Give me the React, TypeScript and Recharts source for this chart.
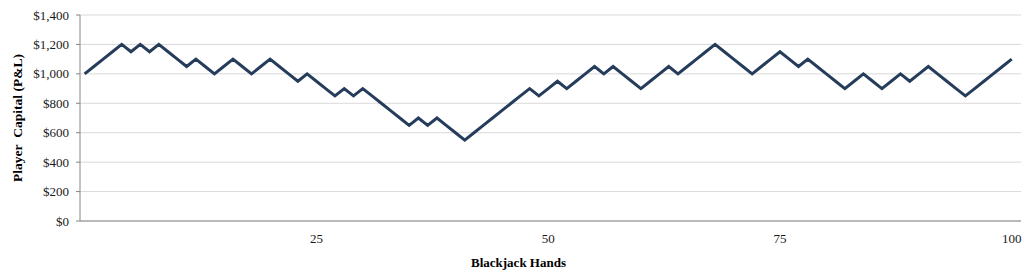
import React from "react";
import { LineChart, Line, XAxis, YAxis, CartesianGrid } from "recharts";

const hands: number[] = Array.from({ length: 101 }, (_, i) => i);
const capital: number[] = [
  1000, 1050, 1100, 1150, 1200, 1150, 1200, 1150, 1200, 1150,
  1100, 1050, 1100, 1050, 1000, 1050, 1100, 1050, 1000, 1050,
  1100, 1050, 1000, 950, 1000, 950, 900, 850, 900, 850,
  900, 850, 800, 750, 700, 650, 700, 650, 700, 650,
  600, 550, 600, 650, 700, 750, 800, 850, 900, 850,
  900, 950, 900, 950, 1000, 1050, 1000, 1050, 1000, 950,
  900, 950, 1000, 1050, 1000, 1050, 1100, 1150, 1200, 1150,
  1100, 1050, 1000, 1050, 1100, 1150, 1100, 1050, 1100, 1050,
  1000, 950, 900, 950, 1000, 950, 900, 950, 1000, 950,
  1000, 1050, 1000, 950, 900, 850, 900, 950, 1000, 1050,
  1100,
];
const xTicks: number[] = [25, 50, 75, 100];
const xTickMarks: number[] = [49.5, 99.5];
const yTicks: number[] = [0, 200, 400, 600, 800, 1000, 1200, 1400];

const data = hands.map((h, i) => ({ hand: h, capital: capital[i] }));

const FONT = "'Liberation Serif', 'DejaVu Serif', serif";
const fmt = (v: number) => "$" + v.toLocaleString("en-US");

export default function App() {
  return (
    <div style={{ position: "absolute", left: 0, top: 0, width: 1035, height: 278, background: "#fff" }}>
      <LineChart
        width={1035}
        height={278}
        data={data}
        margin={{ top: 15, right: 14, bottom: 7, left: 0 }}
        style={{ fontFamily: FONT }}
      >
        <CartesianGrid vertical={false} stroke="#d9d9d9" strokeWidth={1} />
        <XAxis
          xAxisId="marks"
          dataKey="hand"
          type="number"
          domain={[-0.5, 100.5]}
          ticks={xTickMarks}
          tick={false}
          tickSize={4}
          axisLine={false}
          tickLine={{ stroke: "#868686" }}
          height={0}
          orientation="bottom"
        />
        <XAxis
          dataKey="hand"
          type="number"
          domain={[-0.5, 100.5]}
          ticks={xTicks}
          tickLine={false}
          tickSize={6}
          tickMargin={7}
          height={50}
          interval={0}
          axisLine={{ stroke: "#868686", strokeWidth: 1 }}
          tick={{ fill: "#1a1a1a", fontSize: 13, fontFamily: FONT }}
          allowDecimals={false}
          label={{
            value: "Blackjack Hands",
            position: "insideBottom",
            offset: 4,
            dx: -32,
            style: { fontWeight: "bold", fontSize: 13, fill: "#000", fontFamily: FONT },
          }}
        />
        <YAxis
          type="number"
          domain={[0, 1400]}
          ticks={yTicks}
          tickFormatter={fmt}
          width={80}
          tickSize={4}
          tickMargin={7}
          interval={0}
          axisLine={{ stroke: "#868686", strokeWidth: 1 }}
          tickLine={{ stroke: "#868686" }}
          tick={{ fill: "#1a1a1a", fontSize: 13, fontFamily: FONT }}
          label={{
            value: "Player\u00a0 Capital (P&L)",
            angle: -90,
            position: "insideLeft",
            offset: 17,
            style: { textAnchor: "middle", fontWeight: "bold", fontSize: 13.5, fill: "#000", fontFamily: FONT },
          }}
        />
        <Line
          type="linear"
          dataKey="capital"
          stroke="#253d5b"
          strokeWidth={3}
          dot={false}
          activeDot={false}
          isAnimationActive={false}
        />
      </LineChart>
    </div>
  );
}
